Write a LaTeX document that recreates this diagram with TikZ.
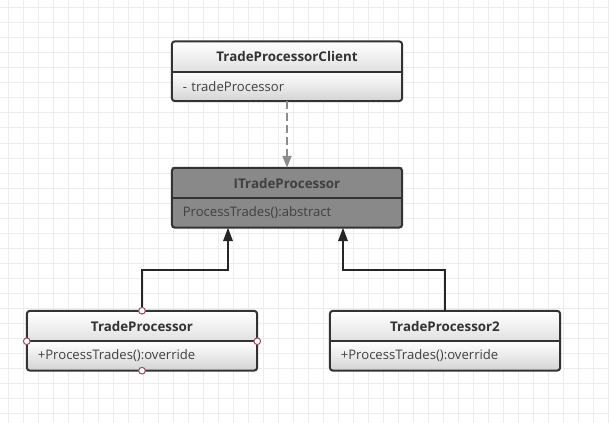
\documentclass[tikz,border=0pt]{standalone}
\usepackage{fontspec}
\setmainfont{Open Sans}
\usetikzlibrary{positioning,arrows.meta}

\definecolor{gridline}{HTML}{ECECEC}
\definecolor{boxline}{HTML}{333333}
\definecolor{absfill}{HTML}{898989}
\definecolor{handle}{HTML}{9A4A62}

\tikzset{
  classhead/.style={rectangle, minimum width=6.9cm, minimum height=0.9cm,
    top color=white, bottom color=black!12, inner sep=0pt,
    font=\fontsize{11.4}{13}\selectfont\bfseries, text=black!80},
  classbody/.style={rectangle, minimum width=6.9cm, minimum height=0.87cm,
    top color=white, bottom color=black!17, inner sep=0pt,
    text width=6.25cm, align=left,
    font=\fontsize{11.2}{13}\selectfont, text=black!75},
  abstract/.style={top color=absfill, bottom color=absfill, text=black!75},
  border/.style={draw=boxline, line width=0.06cm, rounded corners=0.1cm},
  divider/.style={draw=boxline, line width=0.05cm},
  depend/.style={draw=black!45, line width=0.06cm, dash pattern=on 0.24cm off 0.12cm,
    -{Triangle[length=0.36cm, width=0.27cm]}},
  inherit/.style={draw=black!85, line width=0.06cm,
    -{Triangle[length=0.4cm, width=0.28cm]}},
  grip/.style={circle, draw=handle, fill=white, line width=0.03cm,
    inner sep=0pt, minimum size=0.2cm}
}

\begin{document}
\begin{tikzpicture}[x=0.03cm, y=-0.03cm]
        \useasboundingbox (0, 0) rectangle (609, 423);
        % background grid
        \fill[white] (0, 0) rectangle (609, 423);
        \foreach \g in {8, 23, ..., 608}
          \draw[gridline, line width=0.03cm] (\g, 0) -- (\g, 423);
        \foreach \g in {8, 23, ..., 422}
          \draw[gridline, line width=0.03cm] (0, \g) -- (609, \g);

        % client
        \node[classhead] (clienth) at (287, 56.5) {TradeProcessorClient};
        \node[classbody, below=0pt of clienth] (clientb) {- tradeProcessor};
        \draw[border] (clienth.north west) rectangle (clientb.south east);
        \draw[divider] (clienth.south west) -- (clienth.south east);

        % interface
        \node[classhead, abstract] (itph) at (287, 183) {ITradeProcessor};
        \node[classbody, abstract, below=0pt of itph] (itpb) {ProcessTrades():abstract};
        \draw[border] (itph.north west) rectangle (itpb.south east);
        \draw[divider] (itph.south west) -- (itph.south east);

        % implementations
        \node[classhead] (tph) at (142, 326) {TradeProcessor};
        \node[classbody, below=0pt of tph] (tpb) {+ProcessTrades():override};
        \draw[border] (tph.north west) rectangle (tpb.south east);
        \draw[divider] (tph.south west) -- (tph.south east);

        \node[classhead] (tptwoh) at (445, 326) {TradeProcessor2};
        \node[classbody, below=0pt of tptwoh] (tptwob) {+ProcessTrades():override};
        \draw[border] (tptwoh.north west) rectangle (tptwob.south east);
        \draw[divider] (tptwoh.south west) -- (tptwoh.south east);

        % connectors
        \draw[depend] (clientb.south) -- (itph.north);
        \coordinate (bendone) at (228, 270);
        \coordinate (bendtwo) at (343, 270);
        \draw[inherit] (tph.north) |- (bendone) -- (bendone |- itpb.south);
        \draw[inherit] (tptwoh.north) |- (bendtwo) -- (bendtwo |- itpb.south);

        % selection handles
        \node[grip] (gtop) at (tph.north) {};
        \node[grip] (gleft) at (tph.south west) {};
        \node[grip] (gright) at (tph.south east) {};
        \node[grip] (gbottom) at (tpb.south) {};
\end{tikzpicture}
\end{document}
